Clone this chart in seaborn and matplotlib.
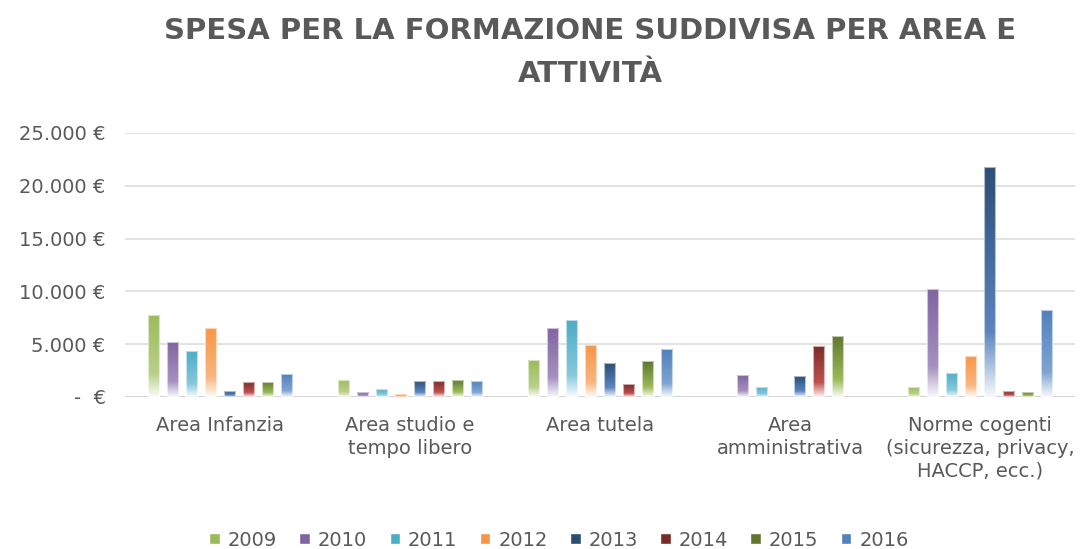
import numpy as np
import pandas as pd
import matplotlib
matplotlib.use("Agg")
import matplotlib.pyplot as plt
import matplotlib.colors as mcolors
from matplotlib.ticker import FuncFormatter
import seaborn as sns

# data (EUR)
categories = ["Area Infanzia", "Area studio e\ntempo libero", "Area tutela",
              "Area\namministrativa", "Norme cogenti\n(sicurezza, privacy,\nHACCP, ecc.)"]
years = ["2009", "2010", "2011", "2012", "2013", "2014", "2015", "2016"]
spesa_2009 = [7800, 1650, 3500, 0, 950]
spesa_2010 = [5250, 450, 6550, 2050, 10200]
spesa_2011 = [4400, 800, 7300, 950, 2300]
spesa_2012 = [6550, 250, 4900, 0, 3900]
spesa_2013 = [600, 1550, 3200, 1950, 21800]
spesa_2014 = [1450, 1550, 1200, 4850, 600]
spesa_2015 = [1450, 1650, 3400, 5800, 450]
spesa_2016 = [2150, 1550, 4500, 0, 8250]

# top colour of each bar and the lighter colour it fades through before white
top_colors = ["#9BBB59", "#8064A2", "#4BACC6", "#F79646",
              "#2C4D75", "#772C2A", "#5F7530", "#4F81BD"]
mid_colors = ["#B9D08A", "#A591C0", "#86C9DB", "#F9B680",
              "#5B85BE", "#C0504D", "#9BBB59", "#80A4D2"]

all_values = [spesa_2009, spesa_2010, spesa_2011, spesa_2012,
              spesa_2013, spesa_2014, spesa_2015, spesa_2016]
rows = []
for year, vals in zip(years, all_values):
    for cat, v in zip(categories, vals):
        rows.append({"Area": cat, "Anno": year, "Spesa": v})
df = pd.DataFrame(rows)

sns.set_theme(style="white")
plt.rcParams["font.family"] = ["DejaVu Sans"]
text_col = "#595959"

fig = plt.figure(figsize=(10.81, 5.49), dpi=100)
ax = fig.add_axes([125 / 1081, 152 / 549, 950 / 1081, 264 / 549])

sns.barplot(data=df, x="Area", y="Spesa", hue="Anno", order=categories,
            hue_order=years, palette=top_colors, width=0.8, gap=0.37,
            saturation=1, errorbar=None, ax=ax)

ax.set_ylim(0, 25000)
xlim = ax.get_xlim()

# gradient fill: top colour -> lighter colour -> white at the base
for i, cont in enumerate(ax.containers):
    c_top = np.array(mcolors.to_rgb(top_colors[i]))
    c_mid = np.array(mcolors.to_rgb(mid_colors[i]))
    t = np.linspace(0, 1, 200)[:, None]
    grad = np.where(t < 0.72,
                    c_top + (c_mid - c_top) * (t / 0.72),
                    c_mid + (1 - c_mid) * ((t - 0.72) / 0.28) * 0.95)
    img = grad[:, None, :]
    for bar in cont:
        h = bar.get_height()
        if h <= 0:
            bar.set_visible(False)
            continue
        x0 = bar.get_x()
        w = bar.get_width()
        im = ax.imshow(img, extent=(x0, x0 + w, 0, h), origin="upper",
                       aspect="auto", zorder=2, interpolation="bilinear")
        im.set_clip_path(bar)
        bar.set_facecolor("none")
        bar.set_edgecolor((1, 1, 1, 0.6))
        bar.set_linewidth(0.8)
        bar.set_zorder(3)

ax.set_aspect("auto")
ax.set_xlim(xlim)
ax.set_ylim(0, 25000)

ax.set_yticks(range(0, 25001, 5000))
ax.yaxis.set_major_formatter(FuncFormatter(
    lambda v, pos: "-  €" if v == 0 else f"{int(v):,}".replace(",", ".") + " €"))
ax.yaxis.grid(True, color="#E3E3E3", linewidth=1.4)
ax.axhline(0, color="#D4D4D4", linewidth=2, zorder=1)
ax.set_axisbelow(True)
for s in ax.spines.values():
    s.set_visible(False)
ax.set_xlabel("")
ax.set_ylabel("")
ax.tick_params(axis="y", length=0, pad=14, labelsize=14, labelcolor=text_col)
ax.tick_params(axis="x", length=0, pad=14, labelsize=14, labelcolor=text_col)
for lab in ax.get_xticklabels():
    lab.set_linespacing(1.22)
    lab.set_verticalalignment("top")

ax.legend(loc="center", bbox_to_anchor=(559 / 1081, 1 - 540 / 549),
          bbox_transform=fig.transFigure, ncol=8, frameon=False,
          handlelength=0.55, handleheight=0.55, handletextpad=0.4,
          columnspacing=1.15, fontsize=14, labelcolor=text_col)

fig.text(590 / 1081, 1 - 31 / 549, "SPESA PER LA FORMAZIONE SUDDIVISA PER AREA E",
         ha="center", va="center", fontsize=21, fontweight="bold", color=text_col)
fig.text(590 / 1081, 1 - 74 / 549, "ATTIVITÀ",
         ha="center", va="center", fontsize=21, fontweight="bold", color=text_col)

fig.savefig("out.png", dpi=100, facecolor="white")
